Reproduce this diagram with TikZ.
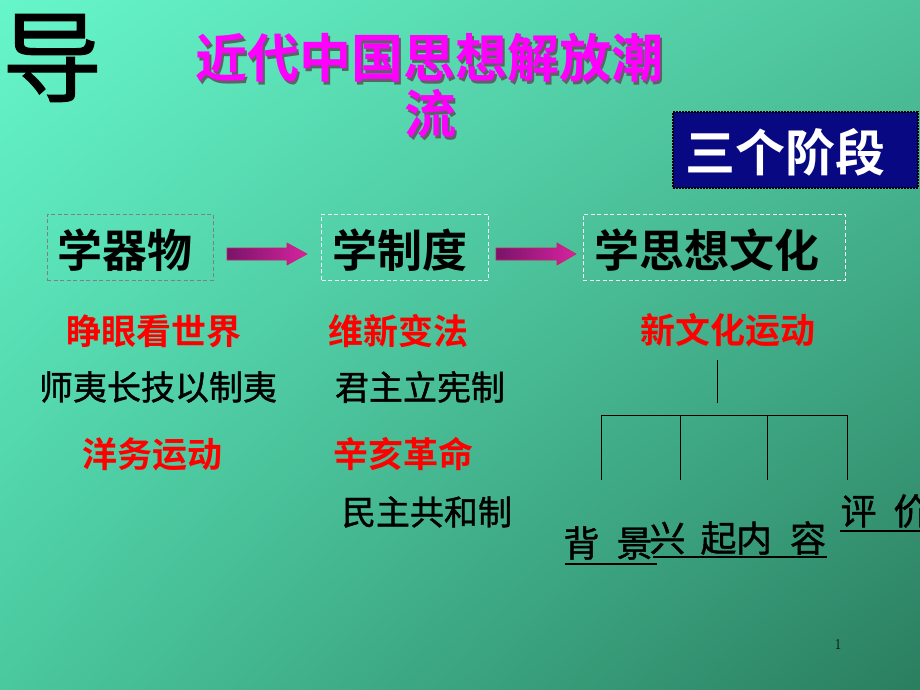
\documentclass[tikz,border=0pt]{standalone}
\usepackage{fontspec}
\newfontfamily\cjk{Noto Sans CJK SC}[BoldFont={Noto Sans CJK SC Bold}]
\newfontfamily\cjkm{Noto Sans CJK SC}[FakeBold=1.2]
\usetikzlibrary{calc,shadings}
\definecolor{bgA}{RGB}{102,246,202}
\definecolor{bgB}{RGB}{78,196,156}
\definecolor{bgC}{RGB}{74,200,158}
\definecolor{bgD}{RGB}{42,126,96}
\definecolor{ttl}{RGB}{255,0,255}
\definecolor{shd}{RGB}{90,100,100}
\definecolor{redt}{RGB}{255,0,0}
\definecolor{navy}{RGB}{8,8,130}
\definecolor{arrL}{RGB}{120,20,105}
\definecolor{arrR}{RGB}{215,35,160}
\definecolor{arrE}{RGB}{210,30,100}
\tikzset{
  cjkb/.style={inner sep=0pt, font=\cjk\bfseries\fontsize{#1}{#1}\selectfont},
  cjkr/.style={inner sep=0pt, font=\cjkm\fontsize{#1}{#1}\selectfont},
  stagebox/.style={draw=#1, dashed, dash pattern=on 4pt off 2.5pt, line width=0.9pt,
     minimum height=66pt, inner sep=0pt},
  redlbl/.style={cjkb=35, text=redt},
  blklbl/.style={cjkr=34, text=black},
  tline/.style={line width=1pt, black},
  ul/.style={line width=2pt, black},
  blockarrow/.style={left color=arrL, right color=arrR, draw=arrE, line width=0.6pt}
}
\begin{document}
\begin{tikzpicture}[x=1pt,y=-1pt]
\useasboundingbox (0,0) rectangle (920,690);
\shade[upper left=bgA, upper right=bgB, lower left=bgC, lower right=bgD] (0,0) rectangle (920,690);

% big character
\node[cjkr=100] (dao) at (52,58) {导};

% title with shadow
\node[cjkb=52, text=shd] at (431.5,60.5) {近代中国思想解放潮};
\node[cjkb=52, text=ttl] (t1) at (429,58) {近代中国思想解放潮};
\node[cjkb=52, text=shd] at (432.5,116.5) {流};
\node[cjkb=52, text=ttl] (t2) at (430,114) {流};

% three stages box
\node[draw=black, densely dotted, line width=2pt, fill=navy, minimum width=245pt,
      minimum height=76pt, inner sep=0pt] (stg) at (795,150) {};
\node[cjkb=50, text=white] (stgt) at (785,152) {三个阶段};

% stage boxes
\node[stagebox=gray, minimum width=166pt] (b1) at (130,247) {};
\node[cjkb=45] (b1t) at (125,250) {学器物};
\node[stagebox=white!90!gray, minimum width=167pt] (b2) at (405,247) {};
\node[cjkb=45] (b2t) at (400,250) {学制度};
\node[stagebox=white!90!gray, minimum width=262pt] (b3) at (714,247) {};
\node[cjkb=45] (b3t) at (707,250) {学思想文化};

% block arrows
\draw[blockarrow] (227,248) -- (287,248) -- (287,243) -- (307,254) -- (287,265) -- (287,260) -- (227,260) -- cycle;
\draw[blockarrow] (496,248) -- (557,248) -- (557,243) -- (576,254) -- (557,265) -- (557,260) -- (496,260) -- cycle;

% column 1
\node[redlbl] (c1a) at (154,331) {睁眼看世界};
\node[blklbl] (c1b) at (158,387) {师夷长技以制夷};
\node[redlbl] (c1c) at (152,454) {洋务运动};

% column 2
\node[redlbl] (c2a) at (398,331) {维新变法};
\node[blklbl] (c2b) at (420,387) {君主立宪制};
\node[redlbl] (c2c) at (403,454) {辛亥革命};
\node[blklbl] (c2d) at (427,512) {民主共和制};

% column 3
\node[redlbl] (c3a) at (728,330) {新文化运动};
\coordinate (r0) at (717,360);
\coordinate (r1) at (717,403);
\coordinate (h0) at (601,415);
\coordinate (h1) at (847,415);
\coordinate (v1) at (601,480);
\coordinate (v2) at (680,480);
\coordinate (v3) at (767,480);
\coordinate (v4) at (847,480);
\draw[tline] (r0) -- (r1);
\draw[tline] (v1) -- (h0) -- (h1) -- (v4);
\draw[tline] (v2 |- h0) -- (v2);
\draw[tline] (v3 |- h0) -- (v3);

% bottom labels
\node[cjkr=36] (bj) at (608,543) {背\hspace{17pt}景};
\node[cjkr=36] (xq) at (693,538) {兴\hspace{15pt}起};
\node[cjkr=36] (nr) at (781,538) {内\hspace{18pt}容};
\node[cjkr=36] (pj) at (885,511) {评\hspace{17pt}价};
\draw[ul] (565,564) -- (657,564);
\draw[ul] (653,557) -- (827,557);
\draw[ul] (840,531) -- (920,531);

% page number
\node[font=\fontsize{15}{15}\selectfont, inner sep=0pt] (pg) at (838,645) {1};
\end{tikzpicture}
\end{document}
